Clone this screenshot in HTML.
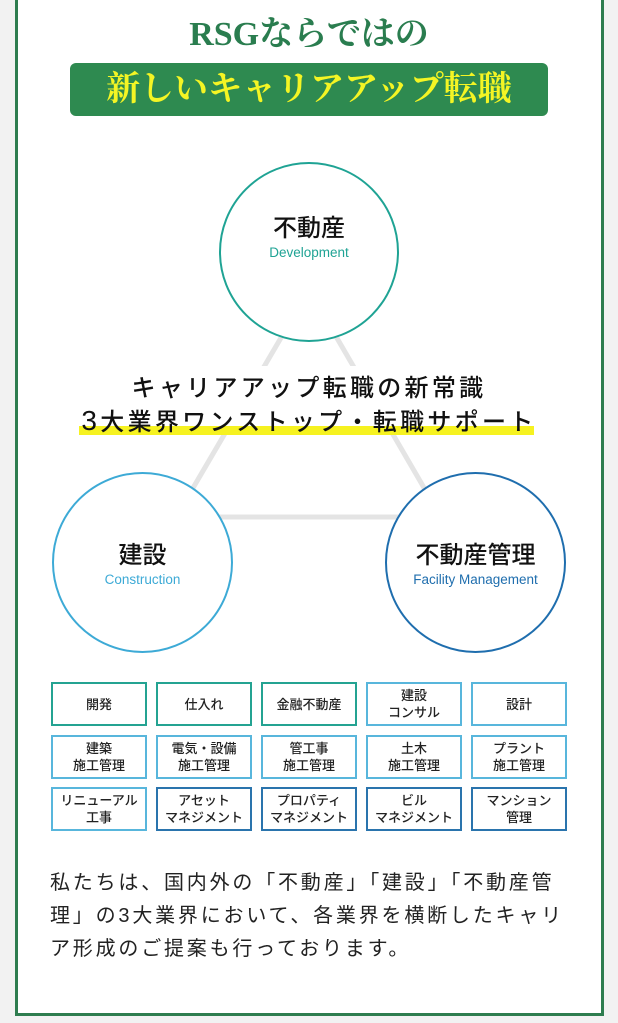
<!DOCTYPE html>
<html><head><meta charset="utf-8"><style>
*{margin:0;padding:0;box-sizing:border-box}
body{width:618px;height:1023px;background:#f2f2f2;position:relative;overflow:hidden;font-family:"Liberation Sans","Noto Sans CJK JP",sans-serif}
.panel{position:absolute;left:15px;top:-5px;width:589px;height:1021px;background:#fff;border:3px solid #2e7d4f}
.a{position:absolute}
.t1{left:0;width:618px;top:12px;text-align:center;font-family:"Liberation Serif","Noto Serif CJK SC",serif;font-weight:bold;font-size:34px;color:#2a7d4f;line-height:46px}
.gbox{left:70px;top:63px;width:478px;height:53px;background:#2e8a50;border-radius:6px;text-align:center;font-family:"Liberation Serif","Noto Serif CJK SC",serif;font-weight:bold;font-size:34px;color:#f4f524;line-height:53px}
.circ{border-radius:50%;background:#fff;text-align:center}
.circ .j{font-size:24px;font-weight:500;color:#111;line-height:30px}
.circ .e{font-size:13.5px;line-height:18px}
.mid{left:0;width:618px;text-align:center;font-size:24px;font-weight:500;color:#111;letter-spacing:3.3px}
.grid{left:51px;top:682px;display:grid;grid-template-columns:repeat(5,96px);grid-auto-rows:44px;column-gap:9px;row-gap:8.5px}
.grid div{border:2px solid;display:flex;align-items:center;justify-content:center;text-align:center;font-size:13px;font-weight:500;line-height:17px;color:#222}
.g{border-color:#24a392!important}.b{border-color:#58b6dc!important}.d{border-color:#2a74ad!important}
.p{left:50px;top:867px;width:560px;font-size:20px;line-height:33px;color:#222;letter-spacing:2.8px;white-space:nowrap}
</style></head><body>
<div class="panel"></div>
<div class="a t1">RSGならではの</div>
<div class="a gbox">新しいキャリアアップ転職</div>
<svg class="a" style="left:0;top:0" width="618" height="1023">
<polygon points="309,290 176,517 441,517" fill="none" stroke="#e4e4e4" stroke-width="5"/>
</svg>
<div class="a" style="left:60px;top:366px;width:500px;height:68px;background:#fff"></div>
<div class="a" style="left:79px;top:426px;width:455px;height:9px;background:#f6f220"></div>
<div class="a mid" style="top:373px;line-height:32px">キャリアアップ転職の新常識</div>
<div class="a mid" style="top:405px;line-height:32px"><span style="font-size:28px">3</span>大業界ワンストップ・転職サポート</div>
<div class="a circ" style="left:219px;top:162px;width:180px;height:180px;border:2px solid #1fa394"><div class="j" style="margin-top:50px">不動産</div><div class="e" style="color:#1fa394">Development</div></div>
<div class="a circ" style="left:52px;top:472px;width:181px;height:181px;border:2px solid #3daad6"><div class="j" style="margin-top:67px">建設</div><div class="e" style="color:#3daad6">Construction</div></div>
<div class="a circ" style="left:385px;top:472px;width:181px;height:181px;border:2px solid #1f6eae"><div class="j" style="margin-top:67px">不動産管理</div><div class="e" style="color:#1f6eae">Facility Management</div></div>
<div class="a grid">
<div class="g">開発</div><div class="g">仕入れ</div><div class="g">金融不動産</div><div class="b">建設<br>コンサル</div><div class="b">設計</div>
<div class="b">建築<br>施工管理</div><div class="b">電気・設備<br>施工管理</div><div class="b">管工事<br>施工管理</div><div class="b">土木<br>施工管理</div><div class="b">プラント<br>施工管理</div>
<div class="b">リニューアル<br>工事</div><div class="d">アセット<br>マネジメント</div><div class="d">プロパティ<br>マネジメント</div><div class="d">ビル<br>マネジメント</div><div class="d">マンション<br>管理</div>
</div>
<div class="a p">私たちは、国内外の「不動産」「建設」「不動産管<br>理」の3大業界において、各業界を横断したキャリ<br>ア形成のご提案も行っております。</div>
</body></html>
